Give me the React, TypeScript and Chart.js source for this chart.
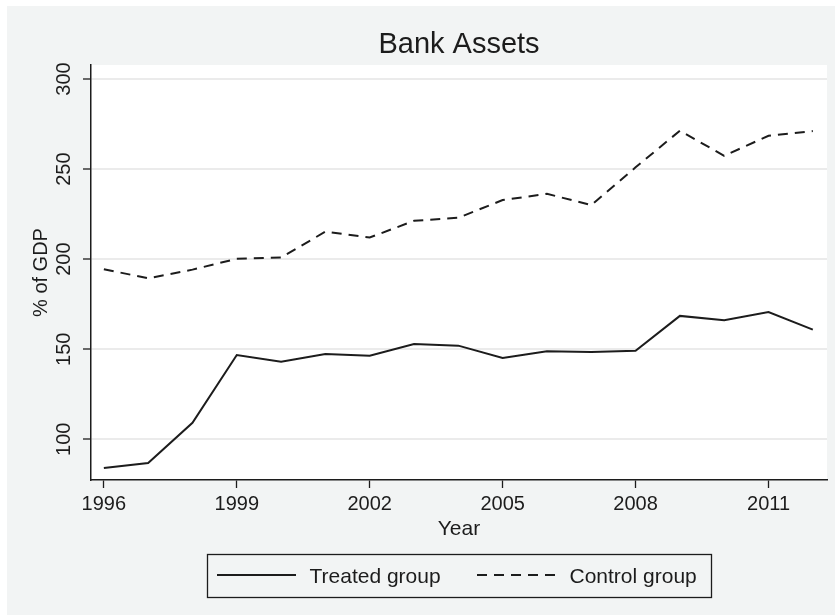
import React, { useEffect, useRef } from 'react';
import { Chart, registerables } from 'chart.js';

Chart.register(...registerables);

// ---- data ----
const years = [1996, 1997, 1998, 1999, 2000, 2001, 2002, 2003, 2004, 2005, 2006, 2007, 2008, 2009, 2010, 2011, 2012];
const treatedGroup = [84.1, 86.8, 109.2, 146.8, 143.1, 147.4, 146.4, 152.9, 152.0, 145.2, 148.9, 148.5, 149.1, 168.5, 166.1, 170.7, 160.9];
const controlGroup = [194.4, 189.4, 194.2, 200.2, 200.9, 215.3, 212.0, 221.3, 223.0, 232.8, 236.3, 230.0, 251.0, 271.3, 257.4, 268.5, 271.1];
const xTickValues = [1996, 1999, 2002, 2005, 2008, 2011];
const yTickValues = [100, 150, 200, 250, 300];
const seriesNames = ['Treated group', 'Control group'];
const chartTitle = 'Bank Assets';
const xAxisTitle = 'Year';
const yAxisTitle = '% of GDP';

const FONT = "'Liberation Sans', Arial, Helvetica, sans-serif";
const INK = '#1c1c1c';
const BG = '#f2f4f4';
const DASH = [10, 7];

const framePlugin = {
  id: 'stataFrame',
  beforeDraw(chart: any) {
    const { ctx, width, height, chartArea: a } = chart;
    ctx.save();
    ctx.fillStyle = '#ffffff';
    ctx.fillRect(0, 0, width, height);
    ctx.fillStyle = BG;
    ctx.fillRect(7, 6, width - 7, height - 6);
    ctx.fillStyle = '#ffffff';
    ctx.fillRect(a.left, a.top, a.right - a.left, a.bottom - a.top);
    ctx.restore();
  },
  afterDraw(chart: any) {
    const { ctx, chartArea: a } = chart;
    const cx = (a.left + a.right) / 2;
    ctx.save();
    // title
    ctx.fillStyle = INK;
    ctx.font = `29px ${FONT}`;
    ctx.textAlign = 'center';
    ctx.textBaseline = 'alphabetic';
    ctx.fillText(chartTitle, cx, 53);

    // legend box
    const bw = 504;
    const bl = Math.round(cx - bw / 2);
    const bt = 554;
    const bh = 43;
    ctx.strokeStyle = INK;
    ctx.lineWidth = 1.3;
    ctx.strokeRect(bl + 0.5, bt + 0.5, bw, bh);
    const ly = bt + 21;
    ctx.lineWidth = 2;
    ctx.beginPath();
    ctx.setLineDash([]);
    ctx.moveTo(bl + 10, ly);
    ctx.lineTo(bl + 89, ly);
    ctx.stroke();
    ctx.beginPath();
    ctx.setLineDash(DASH);
    ctx.moveTo(bl + 270, ly);
    ctx.lineTo(bl + 349, ly);
    ctx.stroke();
    ctx.setLineDash([]);
    ctx.font = `21px ${FONT}`;
    ctx.textAlign = 'left';
    ctx.fillText(seriesNames[0], bl + 102.5, bt + 28.5);
    ctx.fillText(seriesNames[1], bl + 362.5, bt + 28.5);
    ctx.restore();
  },
};

export default function App() {
  const ref = useRef<HTMLCanvasElement | null>(null);

  useEffect(() => {
    if (!ref.current) return;
    const chart = new Chart(ref.current, {
      type: 'line',
      data: {
        datasets: [
          {
            label: seriesNames[0],
            data: years.map((y, i) => ({ x: y, y: treatedGroup[i] })),
            borderColor: INK,
            borderWidth: 2,
            pointRadius: 0,
            tension: 0,
            fill: false,
          },
          {
            label: seriesNames[1],
            data: years.map((y, i) => ({ x: y, y: controlGroup[i] })),
            borderColor: INK,
            borderWidth: 2,
            borderDash: DASH,
            pointRadius: 0,
            tension: 0,
            fill: false,
          },
        ],
      },
      plugins: [framePlugin],
      options: {
        animation: false,
        responsive: false,
        events: [],
        layout: { padding: { left: 0, right: 8, top: 65, bottom: 73 } },
        plugins: {
          legend: { display: false },
          title: { display: false },
          tooltip: { enabled: false },
        },
        scales: {
          x: {
            type: 'linear',
            min: 1995.71,
            max: 2012.32,
            afterBuildTicks: (s: any) => {
              s.ticks = xTickValues.map((v) => ({ value: v }));
            },
            afterFit: (s: any) => {
              s.height = 62;
            },
            grid: {
              drawOnChartArea: false,
              drawTicks: true,
              tickLength: 8,
              tickColor: INK,
              tickWidth: 1.3,
            },
            border: { display: true, color: INK, width: 1.5 },
            ticks: {
              color: INK,
              font: { family: FONT, size: 20 },
              padding: 4.5,
              maxRotation: 0,
              minRotation: 0,
              callback: (v: any) => String(v),
            },
            title: {
              display: true,
              text: xAxisTitle,
              color: INK,
              font: { family: FONT, size: 21 },
              padding: { top: 0, bottom: 0 },
            },
          },
          y: {
            type: 'linear',
            min: 77.4,
            max: 307.8,
            afterBuildTicks: (s: any) => {
              s.ticks = yTickValues.map((v) => ({ value: v }));
            },
            afterFit: (s: any) => {
              s.width = 91;
            },
            grid: {
              color: '#ebebeb',
              lineWidth: 2,
              drawTicks: true,
              tickLength: 8,
              tickColor: INK,
              tickWidth: 1.3,
            },
            border: { display: true, color: INK, width: 1.5 },
            ticks: {
              color: INK,
              font: { family: FONT, size: 20 },
              padding: 2,
              minRotation: 90,
              maxRotation: 90,
              crossAlign: 'center',
              callback: (v: any) => String(v),
            },
            title: {
              display: true,
              text: yAxisTitle,
              color: INK,
              font: { family: FONT, size: 20 },
              padding: { top: 29, bottom: 0 },
            },
          },
        },
      },
    } as any);
    return () => chart.destroy();
  }, []);

  return (
    <div style={{ position: 'absolute', left: 0, top: 0, width: 835, height: 615 }}>
      <canvas ref={ref} width={835} height={615} style={{ display: 'block' }} />
    </div>
  );
}
